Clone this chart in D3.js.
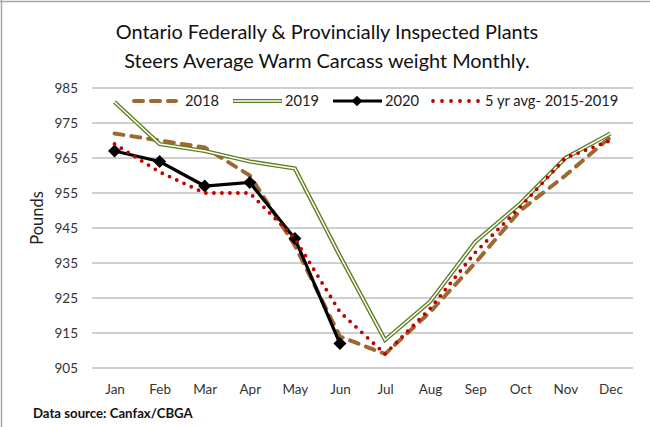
<!DOCTYPE html>
<html lang="en">
<head>
<meta charset="UTF-8">
<title>Ontario Steers Average Warm Carcass Weight</title>
<style>
    body, html {
        margin: 0;
        overflow: hidden;
        background: #fff;
    }
    text {
        font-family: Lato, "Open Sans", sans-serif;
        fill: #222;
    }
</style>
</head>
<body>
<script src="https://d3js.org/d3.v7.min.js"></script>
<script>
    // Data
    const months = ["Jan", "Feb", "Mar", "Apr", "May", "Jun", "Jul", "Aug", "Sep", "Oct", "Nov", "Dec"];
    const y2018 = [972, 970, 968, 960, 940, 914, 909, 921, 935, 950, 960, 971];
    const y2019 = [981, 969, 967, 964, 962, 937, 913, 924, 941, 952, 965, 972];
    const y2020 = [967, 964, 957, 958, 942, 912];
    const avg5yr = [969, 961, 955, 955, 942, 921, 909, 922, 938, 951, 965, 970];
    const yTicks = [905, 915, 925, 935, 945, 955, 965, 975, 985];

    const width = 650, height = 427;

    const svg = d3.select("body").append("svg")
        .attr("width", width)
        .attr("height", height);

    // Chart frame (top and left edges show in the picture)
    svg.append("line")
        .attr("x1", 0).attr("x2", width)
        .attr("y1", 1.5).attr("y2", 1.5)
        .attr("stroke", "#a6a6a6").attr("stroke-width", 1.5);
    svg.append("line")
        .attr("x1", 1.5).attr("x2", 1.5)
        .attr("y1", 0).attr("y2", height)
        .attr("stroke", "#a6a6a6").attr("stroke-width", 1.5);

    // Scales
    const x = d3.scalePoint()
        .domain(months)
        .range([92, 633])
        .padding(0.5);

    const y = d3.scaleLinear()
        .domain([905, 985])
        .range([368, 88]);

    // Gridlines
    svg.append("g")
        .selectAll("line")
        .data(yTicks)
        .join("line")
        .attr("x1", 92).attr("x2", 633)
        .attr("y1", d => y(d)).attr("y2", d => y(d))
        .attr("stroke", "#bfbfbf")
        .attr("stroke-width", 1.5);

    // Y axis labels
    const yAxis = svg.append("g")
        .attr("transform", "translate(92,0)")
        .call(d3.axisLeft(y).tickValues(yTicks).tickSize(0).tickPadding(14));
    yAxis.select(".domain").remove();
    yAxis.selectAll("text")
        .style("font-family", "Lato, sans-serif")
        .style("font-size", "13.5px")
        .style("fill", "#333");

    // X axis labels
    const xAxis = svg.append("g")
        .attr("transform", "translate(0,378)")
        .call(d3.axisBottom(x).tickSize(0).tickPadding(6));
    xAxis.select(".domain").remove();
    xAxis.selectAll("text")
        .style("font-family", "Lato, sans-serif")
        .style("font-size", "13.5px")
        .style("fill", "#333");

    // Title
    svg.append("text")
        .attr("x", 327).attr("y", 39)
        .attr("text-anchor", "middle")
        .style("font-size", "19.9px")
        .style("fill", "#111")
        .text("Ontario Federally & Provincially Inspected Plants");
    svg.append("text")
        .attr("x", 327).attr("y", 68)
        .attr("text-anchor", "middle")
        .style("font-size", "19.9px")
        .style("fill", "#111")
        .text("Steers Average Warm Carcass weight Monthly.");

    // Y axis title
    svg.append("text")
        .attr("transform", "translate(43,218) rotate(-90)")
        .attr("text-anchor", "middle")
        .style("font-size", "16.5px")
        .text("Pounds");

    // Source
    svg.append("text")
        .attr("x", 33).attr("y", 418)
        .style("font-size", "13.2px")
        .style("font-weight", "bold")
        .style("fill", "#111")
        .text("Data source: Canfax/CBGA");

    const line = d3.line()
        .x((d, i) => x(months[i]))
        .y(d => y(d));

    // 2018 - brown dashed
    svg.append("path")
        .attr("d", line(y2018))
        .attr("fill", "none")
        .attr("stroke", "#9c6a2e")
        .attr("stroke-width", 4)
        .attr("stroke-linecap", "round")
        .attr("stroke-dasharray", "9,8");

    // 2019 - green double line
    svg.append("path")
        .attr("d", line(y2019))
        .attr("fill", "none")
        .attr("stroke", "#5f7f1f")
        .attr("stroke-width", 4.2);
    svg.append("path")
        .attr("d", line(y2019))
        .attr("fill", "none")
        .attr("stroke", "#fff")
        .attr("stroke-width", 1.5);

    // 2020 - black with diamonds
    svg.append("path")
        .attr("d", line(y2020))
        .attr("fill", "none")
        .attr("stroke", "#000")
        .attr("stroke-width", 3.2);
    svg.append("g")
        .selectAll("rect")
        .data(y2020)
        .join("rect")
        .attr("x", -4.6).attr("y", -4.6)
        .attr("width", 9.2).attr("height", 9.2)
        .attr("transform", (d, i) => `translate(${x(months[i])},${y(d)}) rotate(45)`)
        .attr("fill", "#000");

    // 5 yr average - red dots
    svg.append("path")
        .attr("d", line(avg5yr))
        .attr("fill", "none")
        .attr("stroke", "#c00000")
        .attr("stroke-width", 3.8)
        .attr("stroke-linecap", "round")
        .attr("stroke-dasharray", "0,8");

    // Legend
    const legend = svg.append("g").attr("transform", "translate(0,101)");

    legend.append("line")
        .attr("x1", 134).attr("x2", 176)
        .attr("stroke", "#9c6a2e").attr("stroke-width", 4)
        .attr("stroke-linecap", "round").attr("stroke-dasharray", "9,8");
    legend.append("text").attr("x", 185).attr("y", 5)
        .style("font-size", "14.7px").text("2018");

    legend.append("line")
        .attr("x1", 233).attr("x2", 282)
        .attr("stroke", "#5f7f1f").attr("stroke-width", 4.2);
    legend.append("line")
        .attr("x1", 233.5).attr("x2", 281.5)
        .attr("stroke", "#fff").attr("stroke-width", 1.5);
    legend.append("text").attr("x", 285).attr("y", 5)
        .style("font-size", "14.7px").text("2019");

    legend.append("line")
        .attr("x1", 333).attr("x2", 382)
        .attr("stroke", "#000").attr("stroke-width", 3.2);
    legend.append("rect")
        .attr("x", -3.8).attr("y", -3.8)
        .attr("width", 7.6).attr("height", 7.6)
        .attr("transform", "translate(357,0) rotate(45)")
        .attr("fill", "#000");
    legend.append("text").attr("x", 385).attr("y", 5)
        .style("font-size", "14.7px").text("2020");

    legend.append("line")
        .attr("x1", 433).attr("x2", 479)
        .attr("stroke", "#c00000").attr("stroke-width", 3.8)
        .attr("stroke-linecap", "round").attr("stroke-dasharray", "0,9");
    legend.append("text").attr("x", 485).attr("y", 5)
        .style("font-size", "14.7px").text("5 yr avg- 2015-2019");
</script>
</body>
</html>
